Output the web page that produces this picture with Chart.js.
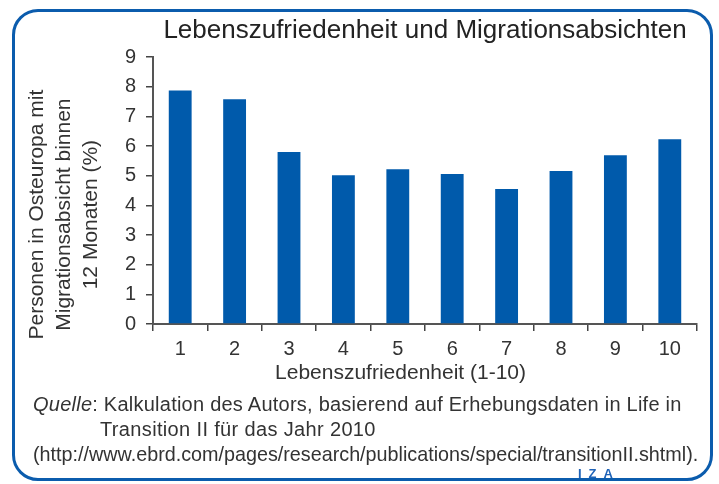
<!DOCTYPE html>
<html>
<head>
<meta charset="utf-8">
<script src="https://cdn.jsdelivr.net/npm/chart.js@4/dist/chart.umd.min.js"></script>
<style>
html,body{margin:0;padding:0;background:#fff;}
#wrap{position:relative;width:719px;height:484px;overflow:hidden;font-family:"Liberation Sans",Arial,sans-serif;color:#333;}
#frame{position:absolute;left:12px;top:9px;width:701px;height:472px;border:3px solid #0b5cad;border-radius:26px;box-sizing:border-box;}
#chartBox{position:absolute;left:0;top:0;width:719px;height:484px;}
#footer{position:absolute;left:33px;top:392px;font-size:20px;line-height:25px;color:#333;white-space:nowrap;}
#footer .l1{letter-spacing:0.24px;}
#footer .ind{padding-left:67px;letter-spacing:0.35px;}
#footer .l3{font-size:19.75px;}
#iza{position:absolute;left:578px;top:466px;font-size:13px;font-weight:bold;color:#1f63b8;letter-spacing:7px;}
</style>
</head>
<body>
<div id="wrap">
  <div id="frame"></div>
  <div id="chartBox"><canvas id="c" width="719" height="484"></canvas></div>
  <div id="footer">
    <div class="l1"><i>Quelle</i>: Kalkulation des Autors, basierend auf Erhebungsdaten in Life in</div>
    <div class="ind">Transition II für das Jahr 2010</div>
    <div class="l3">(http://www.ebrd.com/pages/research/publications/special/transitionII.shtml).</div>
  </div>
  <div id="iza">IZA</div>
</div>
<script>
const categories = ['1','2','3','4','5','6','7','8','9','10'];
const values = [7.88, 7.58, 5.80, 5.02, 5.22, 5.06, 4.55, 5.16, 5.69, 6.23];
const chartTitle = 'Lebenszufriedenheit und Migrationsabsichten';
const xTitle = 'Lebenszufriedenheit (1-10)';
const yTitleLines = ['Personen in Osteuropa mit', 'Migrationsabsicht binnen', '12 Monaten (%)'];
const yMin = 0, yMax = 9, yStep = 1;

const FONT = '"Liberation Sans", Arial, sans-serif';
const TEXT = '#333333';

const axisTitles = {
  id: 'axisTitles',
  afterDraw(chart) {
    const ctx = chart.ctx;
    const a = chart.chartArea;
    ctx.save();
    ctx.fillStyle = TEXT;
    ctx.font = '21px ' + FONT;
    ctx.textAlign = 'center';
    ctx.textBaseline = 'middle';
    // x axis title
    ctx.fillText(xTitle, a.left + (a.right - a.left) * 0.455, a.bottom + 49);
    // y axis title (rotated)
    ctx.translate(37, (a.top + a.bottom) / 2 + 24);
    ctx.rotate(-Math.PI / 2);
    yTitleLines.forEach((line, i) => ctx.fillText(line, 0, i * 27));
    ctx.restore();
  }
};

new Chart(document.getElementById('c'), {
  type: 'bar',
  data: {
    labels: categories,
    datasets: [{
      data: values,
      backgroundColor: '#005aab',
      borderWidth: 0,
      barPercentage: 0.42,
      categoryPercentage: 1
    }]
  },
  options: {
    responsive: false,
    animation: false,
    events: [],
    layout: { padding: { left: 20, right: 22, top: 8, bottom: 120 } },
    plugins: {
      legend: { display: false },
      tooltip: { enabled: false },
      title: {
        display: true,
        text: chartTitle,
        fullSize: false,
        color: '#222222',
        font: { family: FONT, size: 26, weight: 'normal', lineHeight: 1.2 },
        padding: { top: 7, bottom: 11 }
      }
    },
    scales: {
      x: {
        grid: { display: true, drawOnChartArea: false, offset: true, tickLength: 7, color: '#444', lineWidth: 1.5 },
        border: { display: true, color: '#555', width: 2 },
        ticks: { color: TEXT, font: { family: FONT, size: 20 }, padding: 6, maxRotation: 0 },
        afterFit(scale) { scale.height = 40; }
      },
      y: {
        min: yMin, max: yMax,
        grid: { display: true, drawOnChartArea: false, tickLength: 7, color: '#444', lineWidth: 1.5 },
        border: { display: true, color: '#555', width: 2 },
        ticks: { stepSize: yStep, color: TEXT, font: { family: FONT, size: 20 }, padding: 10 },
        afterFit(scale) { scale.width = 133; }
      }
    }
  },
  plugins: [axisTitles]
});
</script>
</body>
</html>
